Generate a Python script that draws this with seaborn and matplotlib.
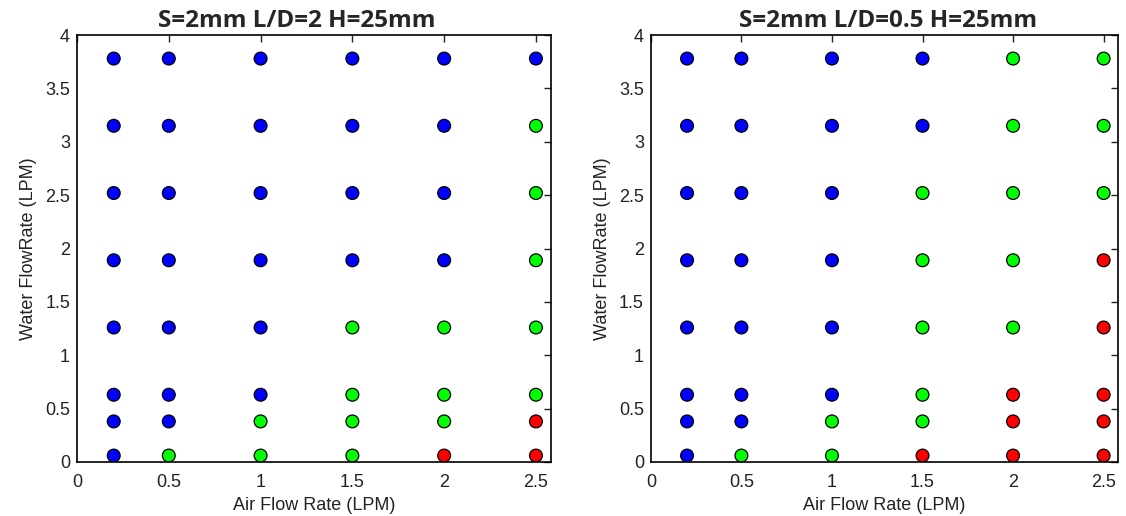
import matplotlib
matplotlib.use("Agg")
import matplotlib.pyplot as plt
import seaborn as sns
import pandas as pd

# air flow (x) and water flow (y) settings
air = [0.2, 0.5, 1.0, 1.5, 2.0, 2.5]
water = [3.78, 3.15, 2.52, 1.89, 1.26, 0.63, 0.38, 0.06]

# flow regime per point, rows follow `water`, columns follow `air`
regime_ld2 = [
    "BBBBBB",
    "BBBBBG",
    "BBBBBG",
    "BBBBBG",
    "BBBGGG",
    "BBBGGG",
    "BBGGGR",
    "BGGGRR",
]
regime_ld05 = [
    "BBBBGG",
    "BBBBGG",
    "BBBGGG",
    "BBBGGR",
    "BBBGGR",
    "BBBGRR",
    "BBGGRR",
    "BGGRRR",
]

titles = ["S=2mm L/D=2 H=25mm", "S=2mm L/D=0.5 H=25mm"]
palette = {"B": "#0000ff", "G": "#00ff00", "R": "#ff0000"}


def to_frame(grid):
    rows = []
    for w, line in zip(water, grid):
        for a, c in zip(air, line):
            rows.append({"air": a, "water": w, "regime": c})
    return pd.DataFrame(rows)


sns.set_style("white")
plt.rcParams["font.family"] = ["Liberation Sans", "DejaVu Sans"]

fig = plt.figure(figsize=(11.26, 5.16), dpi=100)
boxes = [[0.0684, 0.1047, 0.4206, 0.8273], [0.578, 0.1047, 0.415, 0.8273]]
title_x = [0.464, 0.507]

for box, grid, title, tx in zip(boxes, [regime_ld2, regime_ld05], titles, title_x):
    ax = fig.add_axes(box)
    df = to_frame(grid)
    sns.scatterplot(data=df, x="air", y="water", hue="regime", palette=palette,
                    s=85, edgecolor="black", linewidth=0.9, legend=False, ax=ax)
    ax.set_xlim(0, 2.58)
    ax.set_ylim(0, 4)
    ax.set_xticks([0, 0.5, 1, 1.5, 2, 2.5])
    ax.set_xticklabels(["0", "0.5", "1", "1.5", "2", "2.5"])
    ax.set_yticks([0, 0.5, 1, 1.5, 2, 2.5, 3, 3.5, 4])
    ax.set_yticklabels(["0", "0.5", "1", "1.5", "2", "2.5", "3", "3.5", "4"])
    ax.tick_params(direction="in", length=5, width=1, top=True, right=True,
                   labelsize=13, colors="#222222")
    ax.tick_params(axis="x", pad=9)
    ax.tick_params(axis="y", pad=5)
    for sp in ax.spines.values():
        sp.set_color("black")
        sp.set_linewidth(1.2)
    ax.set_xlabel("Air Flow Rate (LPM)", fontsize=13, color="#222222", labelpad=4)
    ax.set_ylabel("Water FlowRate (LPM)", fontsize=13, color="#222222", labelpad=6)
    ax.set_title(title, fontsize=17.5, fontweight="bold", x=tx,
                 family=["Open Sans", "DejaVu Sans"], pad=6)

fig.savefig("out.png", dpi=100)
